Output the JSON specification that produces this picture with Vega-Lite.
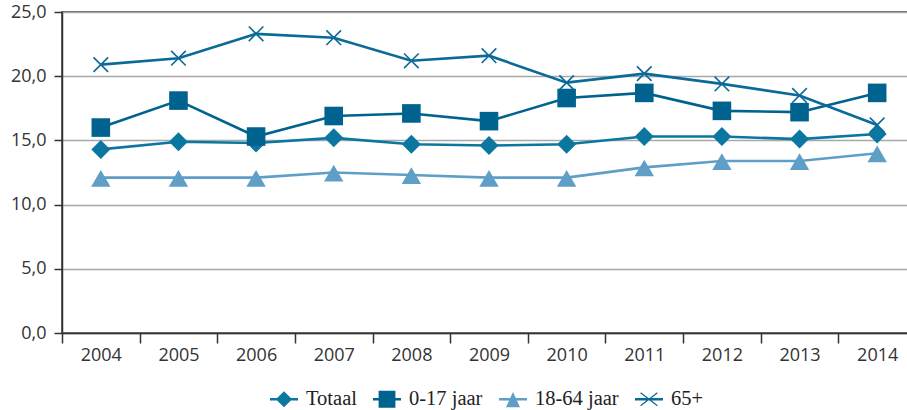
{
  "$schema": "https://vega.github.io/schema/vega-lite/v6.json",
  "width": 854,
  "height": 321,
  "autosize": {"type": "none"},
  "padding": {"left": 62, "top": 12, "right": 0, "bottom": 77},
  "background": "white",
  "data": {
    "values": [
      {"year": "2004", "series": "Totaal", "value": 14.3},
      {"year": "2005", "series": "Totaal", "value": 14.9},
      {"year": "2006", "series": "Totaal", "value": 14.8},
      {"year": "2007", "series": "Totaal", "value": 15.2},
      {"year": "2008", "series": "Totaal", "value": 14.7},
      {"year": "2009", "series": "Totaal", "value": 14.6},
      {"year": "2010", "series": "Totaal", "value": 14.7},
      {"year": "2011", "series": "Totaal", "value": 15.3},
      {"year": "2012", "series": "Totaal", "value": 15.3},
      {"year": "2013", "series": "Totaal", "value": 15.1},
      {"year": "2014", "series": "Totaal", "value": 15.5},
      {"year": "2004", "series": "0-17 jaar", "value": 16.0},
      {"year": "2005", "series": "0-17 jaar", "value": 18.1},
      {"year": "2006", "series": "0-17 jaar", "value": 15.3},
      {"year": "2007", "series": "0-17 jaar", "value": 16.9},
      {"year": "2008", "series": "0-17 jaar", "value": 17.1},
      {"year": "2009", "series": "0-17 jaar", "value": 16.5},
      {"year": "2010", "series": "0-17 jaar", "value": 18.3},
      {"year": "2011", "series": "0-17 jaar", "value": 18.7},
      {"year": "2012", "series": "0-17 jaar", "value": 17.3},
      {"year": "2013", "series": "0-17 jaar", "value": 17.2},
      {"year": "2014", "series": "0-17 jaar", "value": 18.7},
      {"year": "2004", "series": "18-64 jaar", "value": 12.1},
      {"year": "2005", "series": "18-64 jaar", "value": 12.1},
      {"year": "2006", "series": "18-64 jaar", "value": 12.1},
      {"year": "2007", "series": "18-64 jaar", "value": 12.5},
      {"year": "2008", "series": "18-64 jaar", "value": 12.3},
      {"year": "2009", "series": "18-64 jaar", "value": 12.1},
      {"year": "2010", "series": "18-64 jaar", "value": 12.1},
      {"year": "2011", "series": "18-64 jaar", "value": 12.9},
      {"year": "2012", "series": "18-64 jaar", "value": 13.4},
      {"year": "2013", "series": "18-64 jaar", "value": 13.4},
      {"year": "2014", "series": "18-64 jaar", "value": 14.0},
      {"year": "2004", "series": "65+", "value": 20.9},
      {"year": "2005", "series": "65+", "value": 21.4},
      {"year": "2006", "series": "65+", "value": 23.3},
      {"year": "2007", "series": "65+", "value": 23.0},
      {"year": "2008", "series": "65+", "value": 21.2},
      {"year": "2009", "series": "65+", "value": 21.6},
      {"year": "2010", "series": "65+", "value": 19.5},
      {"year": "2011", "series": "65+", "value": 20.2},
      {"year": "2012", "series": "65+", "value": 19.4},
      {"year": "2013", "series": "65+", "value": 18.5},
      {"year": "2014", "series": "65+", "value": 16.2}
    ]
  },
  "encoding": {
    "x": {
      "field": "year",
      "type": "ordinal",
      "scale": {"paddingInner": 0, "paddingOuter": 0},
      "axis": {
        "title": null,
        "labelAngle": 0,
        "tickBand": "extent",
        "grid": false,
        "domainColor": "#333333",
        "domainWidth": 1.5,
        "tickColor": "#333333",
        "tickWidth": 1.5,
        "tickSize": 10,
        "labelFont": "Open Sans",
        "labelFontSize": 18,
        "labelColor": "#333333",
        "labelPadding": 3
      }
    },
    "y": {
      "field": "value",
      "type": "quantitative",
      "scale": {"domain": [0, 25]},
      "axis": {
        "title": null,
        "values": [0, 5, 10, 15, 20, 25],
        "labelExpr": "replace(format(datum.value, '.1f'), '.', ',')",
        "grid": true,
        "gridColor": "#a8a8a8",
        "gridWidth": 1.5,
        "domainColor": "#333333",
        "domainWidth": 1.5,
        "tickColor": "#333333",
        "tickWidth": 1.5,
        "tickSize": 8,
        "labelFont": "Open Sans",
        "labelFontSize": 18,
        "labelColor": "#333333",
        "labelPadding": 8
      }
    }
  },
  "layer": [
    {
      "mark": {"type": "line", "strokeWidth": 2.6},
      "encoding": {
        "color": {
          "field": "series",
          "type": "nominal",
          "scale": {"domain": ["Totaal", "0-17 jaar", "18-64 jaar", "65+"], "range": ["#0b77a1", "#00628f", "#5f9fc7", "#0a6a98"]},
          "legend": null
        }
      }
    },
    {
      "mark": {"type": "point", "filled": true, "opacity": 1, "size": 400, "strokeWidth": 0},
      "encoding": {
        "color": {
          "field": "series",
          "type": "nominal",
          "scale": {"domain": ["Totaal", "0-17 jaar", "18-64 jaar", "65+"], "range": ["#0b77a1", "#00628f", "#5f9fc7", "#0a6a98"]},
          "legend": null
        },
        "shape": {
          "field": "series",
          "type": "nominal",
          "scale": {
            "domain": ["Totaal", "0-17 jaar", "18-64 jaar", "65+"],
            "range": [
              "M0,-0.95L0.95,0L0,0.95L-0.95,0Z",
              "M-0.93,-0.93H0.93V0.93H-0.93Z",
              "M0,-0.77L0.97,0.9L-0.97,0.9Z",
              "M-0.787,-0.673L-0.673,-0.787L0.787,0.673L0.673,0.787ZM-0.673,0.787L-0.787,0.673L0.673,-0.787L0.787,-0.673Z"
            ]
          },
          "legend": null
        }
      }
    },
    {
      "mark": {"type": "point", "filled": true, "opacity": 0, "size": 400, "strokeWidth": 0},
      "encoding": {
        "color": {
          "field": "series",
          "type": "nominal",
          "scale": {"domain": ["Totaal", "0-17 jaar", "18-64 jaar", "65+"], "range": ["#0b77a1", "#00628f", "#5f9fc7", "#0a6a98"]},
          "legend": {
            "orient": "none", "legendX": 208, "legendY": 373, "direction": "horizontal", "title": null,
            "symbolSize": 784, "symbolOpacity": 1, "symbolStrokeWidth": 0,
            "labelFont": "Liberation Serif", "labelFontSize": 20.5, "labelColor": "#222222",
            "labelOffset": 8, "columnPadding": 16, "padding": 0
          }
        },
        "shape": {
          "field": "series",
          "type": "nominal",
          "scale": {
            "domain": ["Totaal", "0-17 jaar", "18-64 jaar", "65+"],
            "range": [
              "M-1,-0.095H1V0.095H-1ZM0,-0.58L0.58,0L0,0.58L-0.58,0Z",
              "M-1,-0.095H1V0.095H-1ZM-0.6,-0.6H0.6V0.6H-0.6Z",
              "M-1,-0.095H1V0.095H-1ZM0,-0.52L0.5,0.57L-0.5,0.57Z",
              "M-1,-0.095H1V0.095H-1ZM-0.6265,-0.436L-0.5735,-0.504L0.6265,0.436L0.5735,0.504ZM-0.5735,0.504L-0.6265,0.436L0.5735,-0.504L0.6265,-0.436Z"
            ]
          },
          "legend": {
            "orient": "none", "legendX": 208, "legendY": 373, "direction": "horizontal", "title": null,
            "symbolSize": 784, "symbolOpacity": 1, "symbolStrokeWidth": 0,
            "labelFont": "Liberation Serif", "labelFontSize": 20.5, "labelColor": "#222222",
            "labelOffset": 8, "columnPadding": 16, "padding": 0
          }
        }
      }
    }
  ],
  "resolve": {
    "scale": {"color": "independent", "shape": "independent"},
    "legend": {"color": "independent", "shape": "independent"}
  },
  "config": {
    "view": {"stroke": "#333333", "strokeWidth": 1.5}
  }
}
